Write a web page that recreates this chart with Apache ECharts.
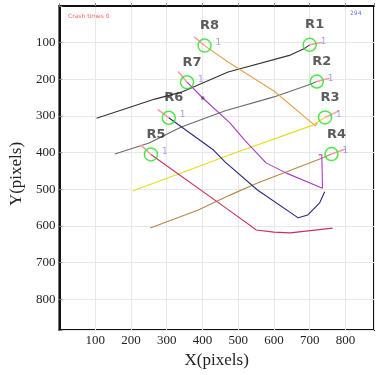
<!DOCTYPE html>
<html>
<head>
<meta charset="utf-8">
<script src="https://cdn.jsdelivr.net/npm/echarts@6/dist/echarts.min.js"></script>
<style>
  html, body { margin: 0; padding: 0; background: #fff; }
  #chart { width: 377px; height: 375px; }
</style>
</head>
<body>
<div id="chart"></div>
<script>
// robot tracks, image pixel coordinates (y grows downwards)
const robotNames = ['R1', 'R2', 'R3', 'R4', 'R5', 'R6', 'R7', 'R8']
const robotX = [700, 720, 743, 761, 256, 306, 357, 406]
const robotY = [106, 206, 304, 404, 405, 305, 208, 108]
const robotCount = ['1', '1', '1', '1', '1', '1', '1', '1']
// end of the short heading segment drawn from each robot
const headX = [736, 756, 782, 800, 227, 275, 332, 377]
const headY = [99, 197, 286, 390, 379, 282, 179, 84]

const trackColors = ['#333333', '#6a6a6a', '#e6dc1e', '#b8864a', '#c83060', '#2a2a80', '#a83cc0', '#e8a050']
const trackX = [
  [104, 267, 341, 472, 646, 687, 700],
  [155, 251, 341, 464, 600, 704, 720],
  [205, 477, 709, 731, 743],
  [254, 387, 477, 554, 736, 761],
  [256, 477, 551, 600, 646, 764],
  [306, 431, 464, 554, 668, 695, 728, 742],
  [357, 401, 477, 518, 578, 635, 736, 734, 725],
  [406, 477, 600, 716, 722]
]
const trackY = [
  [306, 254, 235, 180, 134, 115, 106],
  [404, 374, 330, 286, 248, 213, 206],
  [505, 406, 325, 311, 304],
  [606, 557, 516, 483, 415, 404],
  [405, 559, 611, 617, 619, 606],
  [305, 393, 426, 502, 578, 570, 537, 507],
  [208, 251, 319, 366, 428, 456, 497, 406, 406],
  [108, 156, 232, 327, 318]
]
const dotX = [401]
const dotY = [251]

const serif = "'Liberation Serif', 'DejaVu Serif', serif"
const sans = "'DejaVu Sans', Verdana, sans-serif"

const chart = echarts.init(document.getElementById('chart'))

let series = []
for (let i = 0; i < trackX.length; i++) {
  series.push({
    type: 'line',
    data: trackX[i].map((x, j) => [x, trackY[i][j]]),
    symbol: 'none',
    silent: true,
    lineStyle: { color: trackColors[i], width: 1.1 },
    z: 2
  })
}
for (let i = 0; i < robotX.length; i++) {
  series.push({
    type: 'line',
    data: [[robotX[i], robotY[i]], [headX[i], headY[i]]],
    symbol: 'none',
    silent: true,
    lineStyle: { color: '#ff9a9a', width: 1.5 },
    z: 3
  })
}
series.push({
  type: 'scatter',
  data: dotX.map((x, j) => [x, dotY[j]]),
  symbol: 'rect',
  symbolSize: 3,
  itemStyle: { color: '#7a2a8a' },
  z: 4
})
series.push({
  type: 'scatter',
  data: robotX.map((x, j) => [x, robotY[j]]),
  symbol: 'circle',
  symbolSize: 13,
  itemStyle: { color: 'rgba(0,0,0,0)', borderColor: '#22e022', borderWidth: 1.5 },
  label: {
    show: true,
    position: 'top',
    distance: 5,
    offset: [5, -1],
    formatter: p => robotNames[p.dataIndex],
    color: '#333',
    fontFamily: sans,
    fontWeight: 'bold',
    fontSize: 13
  },
  z: 5
})
series.push({
  type: 'scatter',
  data: robotX.map((x, j) => [x, robotY[j]]),
  symbolSize: 0,
  label: {
    show: true,
    position: 'right',
    distance: 0,
    offset: [11, -3],
    formatter: p => robotCount[p.dataIndex],
    color: '#8a8aee',
    fontFamily: sans,
    fontSize: 9
  },
  z: 5
})

const tickFormatter = v => (v > 0 && v % 100 === 0 && v <= 800) ? String(v) : ''

const option = {
  animation: false,
  grid: {
    left: 55,
    right: -1,
    top: 6,
    bottom: 45,
    show: true,
    borderColor: '#111',
    borderWidth: 2
  },
  xAxis: {
    type: 'value',
    min: 0,
    max: 880,
    interval: 100,
    name: 'X(pixels)',
    nameLocation: 'middle',
    nameGap: 20,
    nameTextStyle: { color: '#222', fontFamily: serif, fontSize: 17 },
    axisLine: { show: true, lineStyle: { color: '#111', width: 2 } },
    axisTick: { show: true, inside: true, length: 3, lineStyle: { color: '#888' } },
    axisLabel: { formatter: tickFormatter, color: '#222', fontFamily: serif, fontSize: 13, margin: 4 },
    splitLine: { show: true, lineStyle: { color: '#e8e8e8', width: 1 } }
  },
  yAxis: {
    type: 'value',
    inverse: true,
    min: 0,
    max: 884,
    interval: 100,
    name: 'Y(pixels)',
    nameLocation: 'middle',
    nameGap: 32,
    nameTextStyle: { color: '#222', fontFamily: serif, fontSize: 17, padding: [0, 12, 0, 0] },
    axisLine: { show: true, lineStyle: { color: '#111', width: 2 } },
    axisTick: { show: true, inside: true, length: 3, lineStyle: { color: '#888' } },
    axisLabel: { formatter: tickFormatter, color: '#222', fontFamily: serif, fontSize: 13, margin: 4 },
    splitLine: { show: true, lineStyle: { color: '#e8e8e8', width: 1 } }
  },
  graphic: [
    {
      type: 'text',
      left: 68,
      top: 13,
      style: { text: 'Crash times 0', fill: '#ff5a5a', font: '6px ' + sans }
    },
    {
      type: 'text',
      left: 350,
      top: 10,
      style: { text: '294', fill: '#6c6cf0', font: '6px ' + sans }
    }
  ],
  series: series
}

chart.setOption(option)
</script>
</body>
</html>
